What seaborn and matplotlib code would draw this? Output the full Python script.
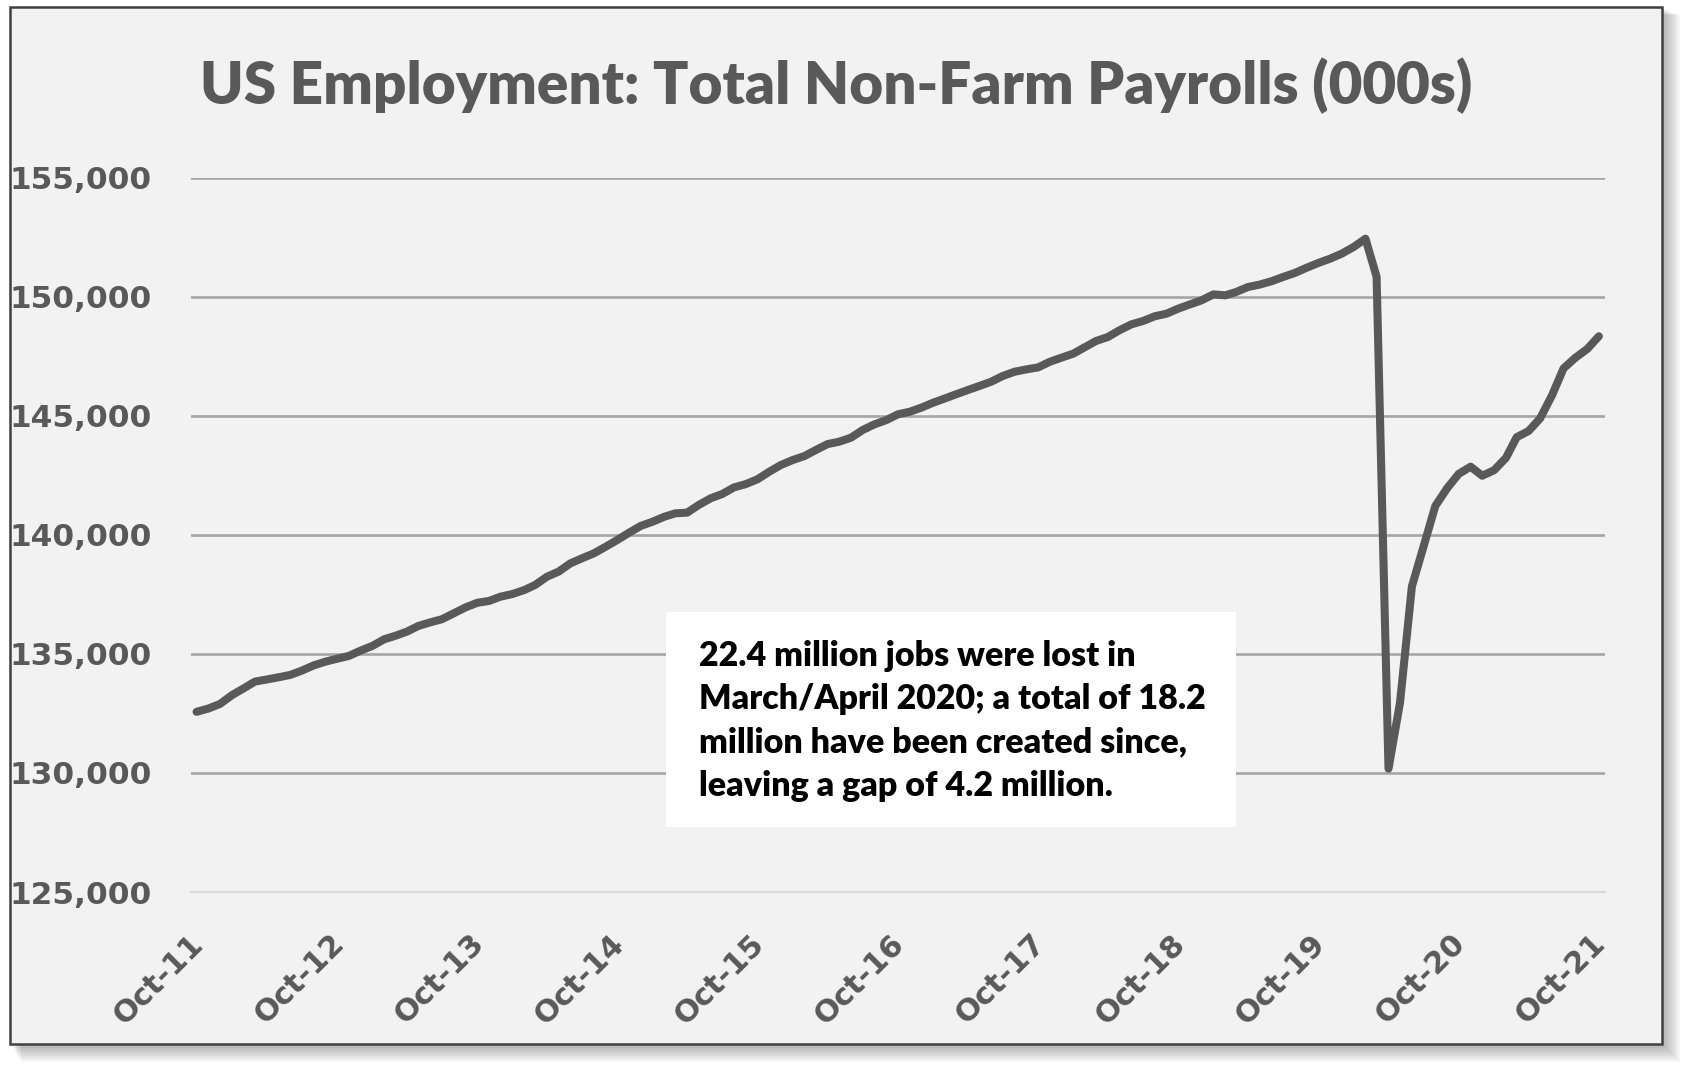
import numpy as np
import pandas as pd
import matplotlib
matplotlib.use("Agg")
import matplotlib.pyplot as plt
import matplotlib.transforms as mtransforms
from matplotlib.patches import Rectangle
from matplotlib.ticker import FuncFormatter
import seaborn as sns

# ---------------- data ----------------
start_month = "2011-10-01"
payrolls = [
    132570, 132710, 132900, 133270, 133560, 133840, 133930, 134020, 134120, 134300,
    134520, 134680, 134800, 134920, 135140, 135340, 135620, 135760, 135940, 136180,
    136330, 136460, 136710, 136960, 137150, 137230, 137410, 137520, 137690, 137900,
    138250, 138460, 138810, 139020, 139230, 139510, 139790, 140100, 140380, 140560,
    140770, 140910, 140940, 141260, 141540, 141720, 142000, 142140, 142340, 142660,
    142940, 143150, 143320, 143570, 143820, 143920, 144090, 144410, 144650, 144830,
    145070, 145180, 145350, 145560, 145740, 145910, 146090, 146260, 146440, 146680,
    146860, 146960, 147040, 147280, 147450, 147620, 147900, 148150, 148320, 148600,
    148850, 148990, 149190, 149300, 149510, 149690, 149860, 150110, 150070, 150210,
    150420, 150520, 150660, 150840, 151010, 151230, 151430, 151610, 151820, 152100,
    152450, 150850, 130180, 132960, 137840, 139500, 141220, 141970, 142570, 142870,
    142490, 142720, 143240, 144110, 144370, 144900, 145870, 147000, 147450, 147820,
    148350,
]
x_tick_labels = ["Oct-11", "Oct-12", "Oct-13", "Oct-14", "Oct-15", "Oct-16",
                 "Oct-17", "Oct-18", "Oct-19", "Oct-20", "Oct-21"]
y_ticks = [125000, 130000, 135000, 140000, 145000, 150000, 155000]
title_text = "US Employment: Total Non-Farm Payrolls (000s)"
note_text = ("22.4 million jobs were lost in\n"
             "March/April 2020; a total of 18.2\n"
             "million have been created since,\n"
             "leaving a gap of 4.2 million.")

months = pd.date_range(start_month, periods=len(payrolls), freq="MS")
df = pd.DataFrame({"date": months + pd.Timedelta(days=15), "payrolls": payrolls})
tick_dates = pd.date_range(start_month, periods=len(x_tick_labels), freq="12MS")

# ---------------- style ----------------
sns.set_style("white")
plt.rcParams["font.family"] = ["DejaVu Sans"]
GRAY = "#595959"

W, H, DPI = 1695, 1077, 100
fig = plt.figure(figsize=(W / DPI, H / DPI), dpi=DPI, facecolor="white")

def px_rect(x0, y0_top, x1, y1_top, **kw):
    # rectangle given in pixel coords from the top-left of the figure
    return Rectangle((x0 / W, 1 - y1_top / H), (x1 - x0) / W, (y1_top - y0_top) / H,
                     transform=fig.transFigure, **kw)

# shadow of the chart frame
for k, off in enumerate(range(2, 20, 2)):
    fig.add_artist(px_rect(10 + off * 0.6, 8 + off * 0.4, 1662 + off, 1044 + off,
                           facecolor="black", edgecolor="none", alpha=0.035, zorder=0))
# chart frame
fig.add_artist(px_rect(10, 7, 1662, 1044, facecolor="#F2F2F2", edgecolor="#404040",
                       linewidth=1.8, zorder=0.5))

ax = fig.add_axes([190.8 / W, 1 - 892 / H, (1605 - 190.8) / W, (892 - 178) / H])
ax.set_facecolor("none")
ax.set_zorder(2)

sns.lineplot(data=df, x="date", y="payrolls", color=GRAY, linewidth=5.8, ax=ax)
for ln in ax.lines:
    ln.set_solid_capstyle("round")
    ln.set_solid_joinstyle("round")

ax.set_xlim(pd.Timestamp(start_month), months[-1] + pd.offsets.MonthBegin(1))
ax.set_ylim(y_ticks[0], y_ticks[-1])
ax.set_yticks(y_ticks)
ax.yaxis.set_major_formatter(FuncFormatter(lambda v, p: f"{int(v):,}"))
ax.set_xticks(tick_dates)
ax.set_xticklabels(x_tick_labels)
ax.set_xlabel("")
ax.set_ylabel("")

ax.yaxis.grid(True, color="#A6A6A6", linewidth=1.9)
ax.xaxis.grid(False)
ax.set_axisbelow(True)
ax.yaxis.get_gridlines()[0].set_visible(False)

for s in ["left", "right", "top"]:
    ax.spines[s].set_visible(False)
ax.spines["bottom"].set_color("#D9D9D9")
ax.spines["bottom"].set_linewidth(1.6)

ax.tick_params(axis="y", length=0, pad=28, labelsize=22.5, labelcolor=GRAY)
ax.tick_params(axis="x", length=9, width=1.5, color="#D9D9D9", direction="out",
               pad=25, labelsize=22, labelcolor=GRAY)
for lab in ax.get_yticklabels():
    lab.set_fontweight("bold")
shift = mtransforms.ScaledTranslation(8 / DPI, 0, fig.dpi_scale_trans)
for lab in ax.get_xticklabels():
    lab.set_fontweight("bold")
    lab.set_rotation(45)
    lab.set_ha("right")
    lab.set_va("center")
    lab.set_rotation_mode("anchor")
    lab.set_transform(lab.get_transform() + shift)

# title
fig.text(836 / W, 1 - 104 / H, title_text, ha="center", va="baseline",
         fontsize=42, fontweight="heavy", color=GRAY, family=["Lato", "DejaVu Sans"])

# annotation box
fig.add_artist(px_rect(666, 612, 1236, 827, facecolor="white", edgecolor="none", zorder=3))
fig.text(699 / W, 1 - 796 / H, note_text, ha="left", va="baseline", fontsize=24.5,
         fontweight="heavy", color="black", linespacing=1.44,
         family=["Lato", "DejaVu Sans"], zorder=4)

fig.savefig("out.png", dpi=DPI, facecolor="white")
